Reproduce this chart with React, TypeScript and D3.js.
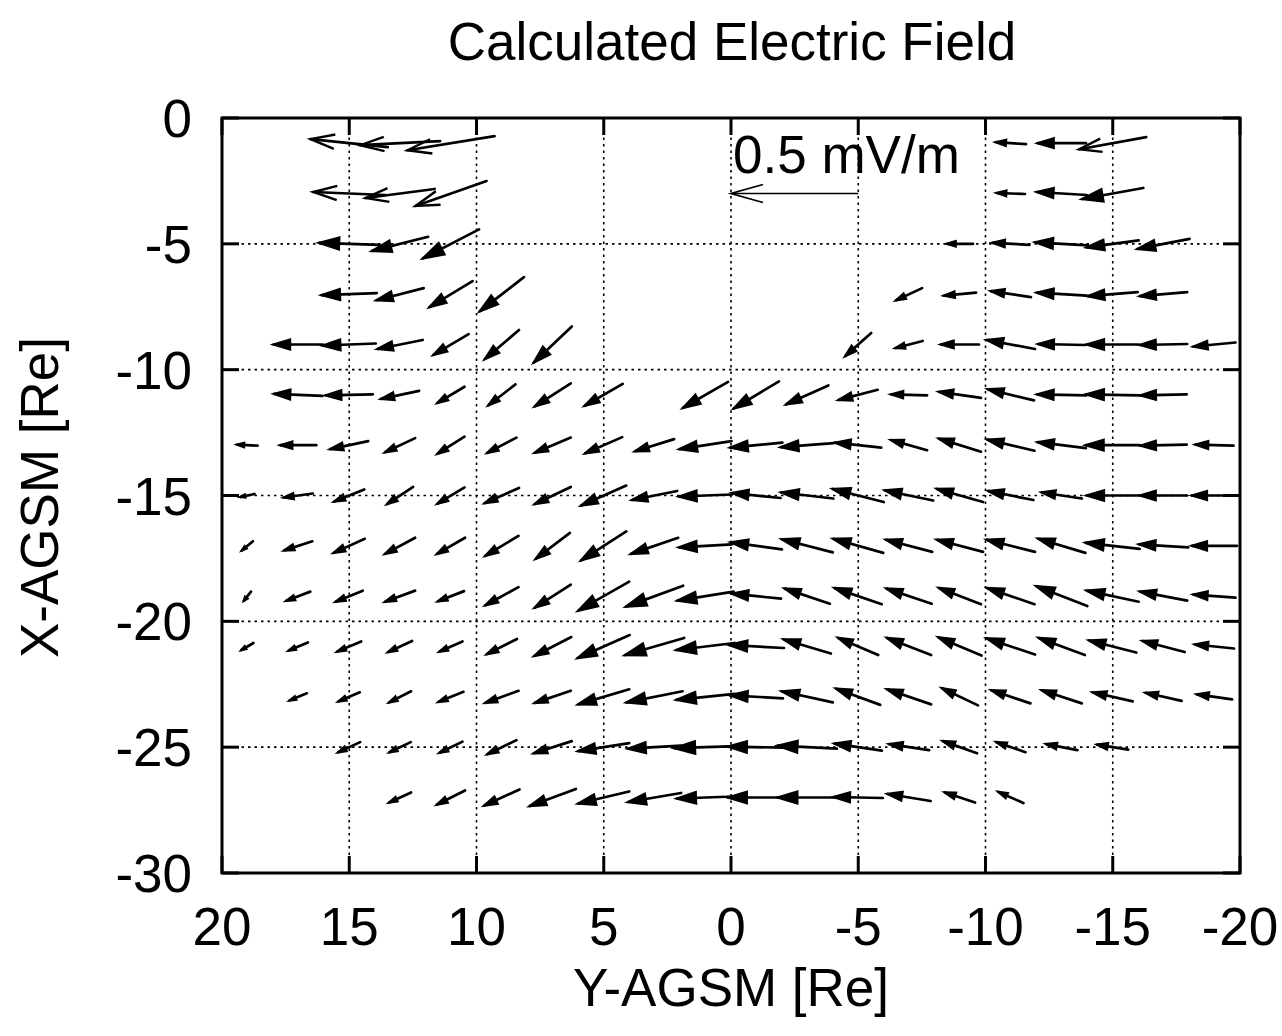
import React from "react";
import * as d3 from "d3";

const _ = null;

// grid columns (Y-AGSM, Re) and rows (X-AGSM, Re)
const yAgsm = [19, 17, 15, 13, 11, 9, 7, 5, 3, 1, -1, -3, -5, -7, -9, -11, -13, -15, -17, -19];
const xAgsm = [-1, -3, -5, -7, -9, -11, -13, -15, -17, -19, -21, -23, -25, -27];

// Ey component (mV/m), one row per X-AGSM value
const eY: (number | null)[][] = [
  [_, _, .303, .314, .342, _, _, _, _, _, _, _, _, _, _, .118, .189, .263, _, _],
  [_, _, .283, .271, .279, _, _, _, _, _, _, _, _, _, _, .110, .196, .240, _, _],
  [_, _, .236, .220, .220, _, _, _, _, _, _, _, _, _, .102, .145, .208, .204, .204, _],
  [_, _, .216, .185, .169, .173, _, _, _, _, _, _, _, .102, .126, .157, .196, .196, .185, _],
  [_, .193, .208, .177, .138, .134, .149, _, _, _, _, _, .102, .106, .149, .189, .185, .204, .185, .165],
  [_, .189, .185, .149, .106, .106, .141, .149, _, .177, .177, .165, .153, .141, .165, .181, .193, .208, .181, _],
  [.079, .141, .149, .118, .106, .114, .141, .145, .153, .204, .204, .208, .181, .141, .165, .185, .189, .212, .181, .149],
  [.055, .114, .118, .102, .106, .134, .141, .177, .177, .208, .189, .204, .200, .189, .181, .177, .157, .204, .185, .177],
  [.043, .110, .122, .118, .110, .130, .134, .177, .185, .208, .200, .200, .196, .181, .181, .189, .185, .212, .193, .177],
  [.028, .094, .106, .118, .102, .130, .141, .200, .224, .220, .193, .177, .185, .177, .165, .185, .200, .204, .185, .165],
  [.047, .075, .094, .094, .090, .118, .145, .204, .232, .228, .216, .185, .157, .173, .169, .189, .181, .185, .165, .153],
  [_, .067, .083, .086, .098, .130, .141, .200, .220, .228, .208, .200, .173, .173, .141, .153, .157, .157, .141, .138],
  [_, _, .086, .083, .090, .114, .149, .200, .208, .245, .224, .232, .185, .157, .134, .114, .122, .122, _, _],
  [_, _, _, .086, .110, .138, .181, .200, .208, .224, .224, .232, .193, .169, .118, .098, _, _, _, _],
];

// Ex component (mV/m)
const eX: (number | null)[][] = [
  [_, _, .032, -.016, -.056, _, _, _, _, _, _, _, _, _, _, .008, 0, -.048, _, _],
  [_, _, .012, -.036, -.099, _, _, _, _, _, _, _, _, _, _, .004, .012, -.044, _, _],
  [_, _, .008, -.056, -.115, _, _, _, _, _, _, _, _, _, 0, .008, .012, -.028, -.040, _],
  [_, _, -.008, -.048, -.103, -.135, _, _, _, _, _, _, _, -.048, -.012, .024, .012, -.016, -.016, _],
  [_, 0, -.008, -.036, -.083, -.115, -.143, _, _, _, _, _, -.091, -.028, 0, .036, .004, 0, -.004, -.016],
  [_, .008, -.004, -.032, -.064, -.083, -.091, -.087, _, -.103, -.107, -.075, -.040, .004, .024, .044, .004, .004, -.004, _],
  [.004, 0, -.032, -.056, -.068, -.060, -.060, -.064, -.048, -.032, -.020, -.016, .020, .040, .052, .044, .024, 0, -.004, .004],
  [-.012, -.016, -.048, -.068, -.064, -.060, -.068, -.079, -.036, -.008, .020, .024, .052, .040, .052, .036, .024, 0, 0, 0],
  [-.036, -.036, -.056, -.064, -.064, -.079, -.103, -.115, -.064, -.012, .028, .052, .056, .048, .048, .048, .056, .024, .012, 0],
  [-.036, -.036, -.044, -.044, -.040, -.072, -.091, -.115, -.083, -.036, .020, .060, .064, .060, .064, .064, .079, .044, .036, .012],
  [-.028, -.032, -.040, -.044, -.040, -.060, -.075, -.091, -.068, -.028, .012, .056, .068, .068, .072, .064, .068, .048, .044, .016],
  [_, -.028, -.036, -.044, -.040, -.048, -.048, -.060, -.044, -.024, .012, .044, .064, .060, .068, .052, .052, .036, .032, .020],
  [_, _, -.040, -.040, -.044, -.056, -.048, -.032, -.012, -.008, .004, .012, .028, .024, .048, .040, .024, .020, _, _],
  [_, _, _, -.040, -.056, -.064, -.068, -.048, -.036, -.008, 0, 0, .004, .028, .040, .044, _, _, _, _],
];

const xTicks = [20, 15, 10, 5, 0, -5, -10, -15, -20];
const yTicks = [0, -5, -10, -15, -20, -25, -30];
const reference = { value: 0.5, label: "0.5 mV/m", yStart: -5, x: -3 };
const rePerMvm = 10; // arrow length: 1 mV/m = 10 Re

const W = 1282, H = 1036;
const M = { left: 222, right: 1240, top: 118, bottom: 873 };
const FONT = "'Liberation Sans', Arial, Helvetica, sans-serif";

export default function App() {
  const xs = d3.scaleLinear().domain([20, -20]).range([M.left, M.right]);
  const ys = d3.scaleLinear().domain([0, -30]).range([M.top, M.bottom]);

  const arrows: { x1: number; y1: number; x2: number; y2: number; key: string }[] = [];
  xAgsm.forEach((X, r) => {
    yAgsm.forEach((Y, c) => {
      const ey = eY[r][c];
      const ex = eX[r][c];
      if (ey == null || ex == null) return;
      const dY = ey * rePerMvm, dX = ex * rePerMvm;
      arrows.push({
        key: `${r}-${c}`,
        x1: xs(Y - dY / 2), y1: ys(X - dX / 2),
        x2: xs(Y + dY / 2), y2: ys(X + dX / 2),
      });
    });
  });

  const head = (a: { x1: number; y1: number; x2: number; y2: number }, hl: number, hw: number) => {
    const dx = a.x2 - a.x1, dy = a.y2 - a.y1;
    const len = Math.hypot(dx, dy) || 1;
    const ux = dx / len, uy = dy / len;
    const bx = a.x2 - ux * hl, by = a.y2 - uy * hl;
    const px = -uy * hw, py = ux * hw;
    return { p1: [bx + px, by + py], p2: [bx - px, by - py], len };
  };

  const refTail = { x: xs(reference.yStart), y: ys(reference.x) };
  const refHeadPt = { x: xs(reference.yStart + reference.value * rePerMvm), y: ys(reference.x) };
  const refH = head({ x1: refTail.x, y1: refTail.y, x2: refHeadPt.x, y2: refHeadPt.y }, 32, 9);

  return (
    <svg width={W} height={H} style={{ position: "absolute", left: 0, top: 0, background: "#fff" }}
      fontFamily={FONT}>
      <rect x={0} y={0} width={W} height={H} fill="#fff" />
      <text x={732} y={60} fontSize={53} textAnchor="middle" fill="#000">Calculated Electric Field</text>

      {/* grid */}
      {xTicks.filter((t) => t !== 20 && t !== -20).map((t) => (
        <line key={"gx" + t} x1={xs(t)} x2={xs(t)} y1={M.top} y2={M.bottom}
          stroke="#000" strokeWidth={1.6} strokeDasharray="2.5,4" />
      ))}
      {yTicks.filter((t) => t !== 0 && t !== -30).map((t) => (
        <line key={"gy" + t} x1={M.left} x2={M.right} y1={ys(t)} y2={ys(t)}
          stroke="#000" strokeWidth={1.6} strokeDasharray="2.5,4" />
      ))}

      {/* ticks */}
      {xTicks.map((t) => (
        <g key={"tx" + t}>
          <line x1={xs(t)} x2={xs(t)} y1={M.bottom} y2={M.bottom - 17} stroke="#000" strokeWidth={3} />
          <line x1={xs(t)} x2={xs(t)} y1={M.top} y2={M.top + 17} stroke="#000" strokeWidth={3} />
          <text x={xs(t)} y={945} fontSize={53} textAnchor="middle" fill="#000">{t}</text>
        </g>
      ))}
      {yTicks.map((t) => (
        <g key={"ty" + t}>
          <line x1={M.left} x2={M.left + 17} y1={ys(t)} y2={ys(t)} stroke="#000" strokeWidth={3} />
          <line x1={M.right} x2={M.right - 17} y1={ys(t)} y2={ys(t)} stroke="#000" strokeWidth={3} />
          <text x={192} y={ys(t) + 19} fontSize={53} textAnchor="end" fill="#000">{t}</text>
        </g>
      ))}

      {/* frame */}
      <rect x={M.left} y={M.top} width={M.right - M.left} height={M.bottom - M.top}
        fill="none" stroke="#000" strokeWidth={3} />

      {/* vectors */}
      {arrows.map((a) => {
        const len = Math.hypot(a.x2 - a.x1, a.y2 - a.y1);
        const hl = Math.max(3, Math.min(24, 0.33 * len));
        const hw = Math.max(1.5, 0.3 * hl);
        const h = head(a, hl, hw);
        const filled = len < 68;
        return (
          <g key={a.key}>
            <line x1={a.x1} y1={a.y1} x2={a.x2} y2={a.y2} stroke="#000" strokeWidth={2.7} strokeLinecap="round" />
            <path d={`M${h.p1[0]},${h.p1[1]}L${a.x2},${a.y2}L${h.p2[0]},${h.p2[1]}${filled ? "Z" : ""}`}
              fill={filled ? "#000" : "none"} stroke="#000" strokeWidth={2.4} strokeLinejoin="miter" />
          </g>
        );
      })}

      {/* reference arrow */}
      <line x1={refTail.x} y1={refTail.y} x2={refHeadPt.x} y2={refHeadPt.y} stroke="#000" strokeWidth={1.6} />
      <path d={`M${refH.p1[0]},${refH.p1[1]}L${refHeadPt.x},${refHeadPt.y}L${refH.p2[0]},${refH.p2[1]}`}
        fill="none" stroke="#000" strokeWidth={1.8} />
      <text x={xs(0) + 2} y={ys(-2) + 5} fontSize={53} fill="#000">{reference.label}</text>

      {/* axis labels */}
      <text x={731} y={1006} fontSize={53} textAnchor="middle" fill="#000">Y-AGSM [Re]</text>
      <text transform={`translate(58,${(M.top + M.bottom) / 2 + 2}) rotate(-90)`} fontSize={53}
        textAnchor="middle" fill="#000">X-AGSM [Re]</text>
    </svg>
  );
}
